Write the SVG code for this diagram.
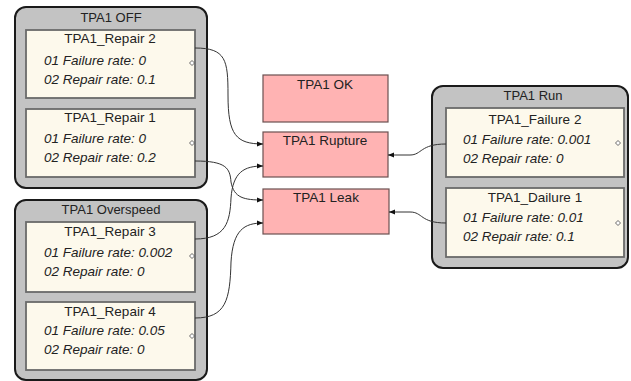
<svg xmlns="http://www.w3.org/2000/svg" width="631" height="381" viewBox="0 0 631 381">
<defs>
<marker id="arr" viewBox="0 0 10 10" refX="10" refY="5" markerWidth="6" markerHeight="6" orient="auto" markerUnits="userSpaceOnUse">
<path d="M0,1 L10,5 L0,9 z" fill="#111"/>
</marker>
</defs>
<style>
.cont{fill:#c3c3c3;stroke:#1a1a1a;stroke-width:2}
.box{fill:#fdf9ec;stroke:#6a6a6a;stroke-width:1.8}
.st{fill:#ffb3b3;stroke:#6b5050;stroke-width:1.2}
text{font-family:"Liberation Sans",Arial,sans-serif;fill:#222}
.hd{font-size:13px;text-anchor:middle}
.ti{font-size:13.5px;text-anchor:middle}
.it{font-size:13.5px;font-style:italic}
.port{fill:#fff;stroke:#444;stroke-width:0.8}
.con{fill:none;stroke:#333;stroke-width:1}
</style>
<g id="tpa1-off">
<rect class="cont" x="15" y="7" width="192" height="181" rx="11"/>
<text class="hd" x="111" y="22">TPA1 OFF</text>
</g>
<g id="tpa1-repair2">
<rect class="box" x="26" y="30" width="169" height="68"/>
<text class="ti" x="110" y="43">TPA1_Repair 2</text>
<text class="it" x="44" y="65">01 Failure rate: 0</text>
<text class="it" x="44" y="84">02 Repair rate: 0.1</text>
<path class="port" d="M192,60.5 L194.5,63 L192,65.5 L189.5,63 z"/>
</g>
<g id="tpa1-repair1">
<rect class="box" x="26" y="109" width="169" height="68"/>
<text class="ti" x="110" y="122">TPA1_Repair 1</text>
<text class="it" x="44" y="143">01 Failure rate: 0</text>
<text class="it" x="44" y="162">02 Repair rate: 0.2</text>
<path class="port" d="M192,140.5 L194.5,143 L192,145.5 L189.5,143 z"/>
</g>
<g id="tpa1-overspeed">
<rect class="cont" x="15" y="200" width="192" height="180" rx="11"/>
<text class="hd" x="111" y="214">TPA1 Overspeed</text>
</g>
<g id="tpa1-repair3">
<rect class="box" x="26" y="222" width="169" height="70"/>
<text class="ti" x="110" y="236">TPA1_Repair  3</text>
<text class="it" x="44" y="257">01 Failure rate: 0.002</text>
<text class="it" x="44" y="276">02 Repair rate: 0</text>
<path class="port" d="M192,253.5 L194.5,256 L192,258.5 L189.5,256 z"/>
</g>
<g id="tpa1-repair4">
<rect class="box" x="26" y="302" width="169" height="68"/>
<text class="ti" x="110" y="316">TPA1_Repair 4</text>
<text class="it" x="44" y="335">01 Failure rate: 0.05</text>
<text class="it" x="44" y="354">02 Repair rate: 0</text>
<path class="port" d="M192,333.5 L194.5,336 L192,338.5 L189.5,336 z"/>
</g>
<g id="tpa1-ok">
<rect class="st" x="263" y="75" width="125" height="47"/>
<text class="ti" x="325" y="89">TPA1 OK</text>
</g>
<g id="tpa1-rupture">
<rect class="st" x="263" y="132" width="125" height="45"/>
<text class="ti" x="325" y="145">TPA1 Rupture</text>
</g>
<g id="tpa1-leak">
<rect class="st" x="263" y="189" width="126" height="45"/>
<text class="ti" x="326" y="202">TPA1 Leak</text>
</g>
<g id="tpa1-run">
<rect class="cont" x="432" y="86" width="196" height="182" rx="11"/>
<text class="hd" x="533" y="100">TPA1 Run</text>
</g>
<g id="tpa1-failure2">
<rect class="box" x="446" y="108" width="178" height="69"/>
<text class="ti" x="535" y="124">TPA1_Failure 2</text>
<text class="it" x="463" y="144">01 Failure rate: 0.001</text>
<text class="it" x="463" y="163">02 Repair rate: 0</text>
<path class="port" d="M618,140.5 L620.5,143 L618,145.5 L615.5,143 z"/>
</g>
<g id="tpa1-dailure1">
<rect class="box" x="446" y="188" width="178" height="69"/>
<text class="ti" x="535" y="202">TPA1_Dailure 1</text>
<text class="it" x="463" y="222">01 Failure rate: 0.01</text>
<text class="it" x="463" y="241">02 Repair rate: 0.1</text>
<path class="port" d="M618,220.5 L620.5,223 L618,225.5 L615.5,223 z"/>
</g>
<g id="connectors">
<path class="con" marker-end="url(#arr)" d="M195,48 C226,48 228,60 228,95 C228,135 236,144 263,144"/>
<path class="con" marker-end="url(#arr)" d="M195,161 C226,161 230,168 231,182 C234,198 244,200 263,200"/>
<path class="con" marker-end="url(#arr)" d="M195,239 C226,239 230,222 231,198 C233,172 244,166 263,166"/>
<path class="con" marker-end="url(#arr)" d="M195,318 C226,318 230,300 231,262 C233,230 244,223 263,223"/>
<path class="con" marker-end="url(#arr)" d="M446,144 C420,144 422,155 410,155 L388,155"/>
<path class="con" marker-end="url(#arr)" d="M446,223 C420,223 423,212 410,212 L389,212"/>
</g>
</svg>
